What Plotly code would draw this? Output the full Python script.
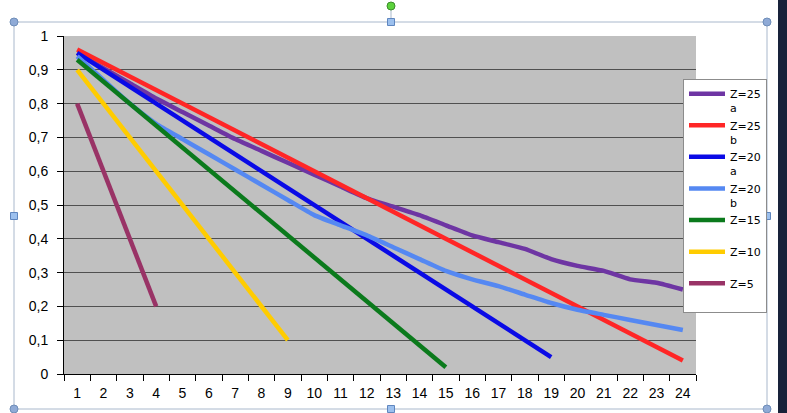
import plotly.graph_objects as go

categories = list(range(1, 25))

z25a = [0.95, 0.905, 0.86, 0.815, 0.775, 0.735, 0.695, 0.66, 0.625, 0.59, 0.555, 0.52,
        0.495, 0.47, 0.44, 0.41, 0.39, 0.37, 0.34, 0.32, 0.305, 0.28, 0.27, 0.25]
z25b = [0.96, 0.92, 0.88, 0.84, 0.80, 0.76, 0.72, 0.68, 0.64, 0.60, 0.56, 0.52,
        0.48, 0.44, 0.40, 0.36, 0.32, 0.28, 0.24, 0.20, 0.16, 0.12, 0.08, 0.04]
z20a = [0.95, 0.90, 0.85, 0.80, 0.75, 0.70, 0.65, 0.60, 0.55, 0.50, 0.45, 0.40,
        0.35, 0.30, 0.25, 0.20, 0.15, 0.10, 0.05]
z20b = [0.94, 0.87, 0.80, 0.74, 0.695, 0.65, 0.605, 0.56, 0.515, 0.47, 0.44, 0.41,
        0.375, 0.34, 0.305, 0.28, 0.26, 0.235, 0.21, 0.19, 0.175, 0.16, 0.145, 0.13]
z15 = [0.93, 0.865, 0.80, 0.735, 0.67, 0.605, 0.54, 0.475, 0.41, 0.345, 0.28,
       0.215, 0.15, 0.085, 0.02]
z10 = [0.90, 0.80, 0.70, 0.60, 0.50, 0.40, 0.30, 0.20, 0.10]
z5 = [0.80, 0.60, 0.40, 0.20]

series = [
    ("Z=25<br>a", z25a, "#6E35A3", "spline"),
    ("Z=25<br>b", z25b, "#FF2626", "linear"),
    ("Z=20<br>a", z20a, "#0A0AE6", "linear"),
    ("Z=20<br>b", z20b, "#5588F2", "spline"),
    ("Z=15<br>\u00a0", z15, "#0B7A1C", "linear"),
    ("Z=10<br>\u00a0", z10, "#FFCC00", "linear"),
    ("Z=5<br>\u00a0", z5, "#993366", "linear"),
]

yticks = [i / 10 for i in range(11)]
yticktext = ["0"] + ["0,%d" % i for i in range(1, 10)] + ["1"]

fig = go.Figure()
for name, vals, color, shape in series:
    fig.add_trace(go.Scatter(
        x=categories[:len(vals)], y=vals, name=name, mode="lines",
        line=dict(color=color, width=4.5, shape=shape, smoothing=0.5),
    ))

# plot area in pixels: x 64..696, y 36..374
L, R, T, B = 64, 696, 36, 374
def px(x):
    return (x - L) / (R - L)
def py(y):
    return (B - y) / (B - T)

frame = "#A9B8CC"
shapes = [
    dict(type="rect", xref="paper", yref="paper", x0=px(14), x1=px(767), y0=py(409), y1=py(22),
         line=dict(color=frame, width=1), fillcolor="rgba(0,0,0,0)", layer="below"),
    dict(type="line", xref="paper", yref="paper", x0=px(391), x1=px(391), y0=py(22), y1=py(7),
         line=dict(color=frame, width=1)),
    dict(type="rect", xref="paper", yref="paper", x0=px(778), x1=px(790), y0=py(-2), y1=py(415),
         line=dict(width=0), fillcolor="#18223A"),
]
for (cx, cy) in [(14, 22), (767, 22), (14, 409), (767, 409)]:
    shapes.append(dict(type="circle", xref="paper", yref="paper",
                       x0=px(cx - 4), x1=px(cx + 4), y0=py(cy + 4), y1=py(cy - 4),
                       line=dict(color="#6E8DB8", width=1), fillcolor="#8FAAD6"))
for (cx, cy) in [(391, 22), (391, 409), (14, 216), (767, 216)]:
    shapes.append(dict(type="rect", xref="paper", yref="paper",
                       x0=px(cx - 3.5), x1=px(cx + 3.5), y0=py(cy + 3.5), y1=py(cy - 3.5),
                       line=dict(color="#5F86BF", width=1), fillcolor="#9CC0EE"))
shapes.append(dict(type="circle", xref="paper", yref="paper",
                   x0=px(387), x1=px(395), y0=py(10), y1=py(2),
                   line=dict(color="#3C8C2C", width=1), fillcolor="#5CD23C"))

fig.update_layout(
    width=787, height=413,
    margin=dict(l=L, r=787 - R, t=T, b=413 - B),
    paper_bgcolor="white",
    plot_bgcolor="#C0C0C0",
    font=dict(family="Liberation Sans, Arial, sans-serif", size=14, color="black"),
    showlegend=True,
    legend=dict(
        x=px(683), y=py(79), xanchor="left", yanchor="top",
        bgcolor="white", bordercolor="#8C8C8C", borderwidth=1,
        font=dict(family="DejaVu Sans, sans-serif", size=11, color="black"), valign="top",
        tracegroupgap=0, itemwidth=36,
    ),
    xaxis=dict(
        range=[0.5, 24.5], tickmode="array", tickvals=categories,
        ticktext=[str(c) for c in categories], ticks="", showgrid=False,
        showline=True, linecolor="black", linewidth=1, zeroline=False,
        minor=dict(ticks="outside", tick0=0.5, dtick=1, ticklen=6, tickcolor="black", showgrid=False),
        ticklabelstandoff=6,
    ),
    yaxis=dict(
        range=[0, 1], tickmode="array", tickvals=yticks, ticktext=yticktext,
        ticks="outside", ticklen=6, tickcolor="black",
        showgrid=True, gridcolor="#505050", gridwidth=1,
        showline=True, linecolor="black", linewidth=1, zeroline=False,
        ticklabelstandoff=6,
    ),
    shapes=shapes,
)

fig.write_html("out.html")
